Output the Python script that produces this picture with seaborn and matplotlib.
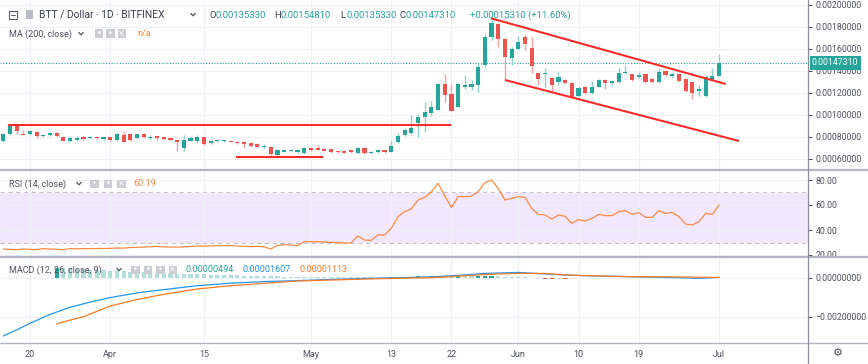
import matplotlib
matplotlib.use("Agg")
import matplotlib.pyplot as plt
import matplotlib.dates as mdates
from matplotlib.patches import Rectangle
from matplotlib.lines import Line2D
import numpy as np
import pandas as pd
import seaborn as sns

sns.set_theme(style="white")
plt.rcParams["font.family"] = ["Roboto", "DejaVu Sans"]

W, H = 868, 364

# --- data -----------------------------------------------------------------
dates = pd.date_range("2019-03-16", "2019-07-01", freq="D")

open_ = [
    0.0007636, 0.0008218, 0.0008973, 0.0008291, 0.0008218, 0.0008455, 0.0008036, 0.0008127, 0.0008364, 0.0008000,
    0.0007636, 0.0007700, 0.0007945, 0.0007909, 0.0007945, 0.0007818, 0.0007973, 0.0007673, 0.0008155, 0.0008218,
    0.0007855, 0.0008218, 0.0007855, 0.0008036, 0.0007945, 0.0007909, 0.0007673, 0.0006945, 0.0007636, 0.0007582,
    0.0007945, 0.0007400, 0.0007582, 0.0007582, 0.0007636, 0.0007518, 0.0007491, 0.0007400, 0.0007364, 0.0007064,
    0.0007091, 0.0006309, 0.0006636, 0.0006700, 0.0006609, 0.0006545, 0.0006973, 0.0006973, 0.0006909, 0.0006855,
    0.0006673, 0.0006700, 0.0006764, 0.0006491, 0.0007000, 0.0006518, 0.0006609, 0.0006791, 0.0006636, 0.0007491,
    0.0008155, 0.0008336, 0.0009236, 0.0009764, 0.0010127, 0.0010455, 0.0012764, 0.0011855, 0.0010727, 0.0012518,
    0.0012518, 0.0012673, 0.0014518, 0.0017064, 0.0018245, 0.0016882, 0.0015182, 0.0015945, 0.0017091, 0.0016091,
    0.0013764, 0.0013673, 0.0013309, 0.0012945, 0.0013155, 0.0012855, 0.0011700, 0.0012491, 0.0012000, 0.0012545,
    0.0013155, 0.0012909, 0.0013000, 0.0013764, 0.0013673, 0.0013455, 0.0013673, 0.0013245, 0.0013000, 0.0013973,
    0.0013518, 0.0013673, 0.0013218, 0.0013000, 0.0012155, 0.0011700, 0.0013155, 0.0013533,
]
high = [
    0.0008336, 0.0009127, 0.0009064, 0.0008609, 0.0008609, 0.0008518, 0.0008273, 0.0008382, 0.0008427, 0.0008064,
    0.0008036, 0.0008036, 0.0008064, 0.0008064, 0.0008018, 0.0008018, 0.0008018, 0.0008455, 0.0008518, 0.0008291,
    0.0008291, 0.0008364, 0.0008155, 0.0008109, 0.0008018, 0.0007973, 0.0007745, 0.0008155, 0.0008036, 0.0008182,
    0.0008018, 0.0007673, 0.0007791, 0.0007727, 0.0007700, 0.0007582, 0.0007564, 0.0007473, 0.0007427, 0.0007364,
    0.0007155, 0.0006855, 0.0006882, 0.0006855, 0.0006882, 0.0007091, 0.0007036, 0.0007218, 0.0006973, 0.0006909,
    0.0006727, 0.0006764, 0.0006818, 0.0007064, 0.0007064, 0.0006673, 0.0006855, 0.0006855, 0.0007609, 0.0008309,
    0.0008764, 0.0009973, 0.0010036, 0.0011200, 0.0011245, 0.0012882, 0.0013673, 0.0012764, 0.0012855, 0.0013609,
    0.0013182, 0.0014727, 0.0017336, 0.0018764, 0.0018291, 0.0016973, 0.0016155, 0.0017155, 0.0017245, 0.0017036,
    0.0013836, 0.0014245, 0.0013382, 0.0013855, 0.0013218, 0.0012927, 0.0012609, 0.0012564, 0.0013091, 0.0013245,
    0.0013218, 0.0013182, 0.0014364, 0.0014518, 0.0013745, 0.0013855, 0.0013745, 0.0013309, 0.0014218, 0.0014064,
    0.0013909, 0.0013745, 0.0013291, 0.0013064, 0.0012700, 0.0013564, 0.0014218, 0.0015481,
]
low = [
    0.0007518, 0.0008155, 0.0008245, 0.0008155, 0.0008155, 0.0007855, 0.0007945, 0.0008064, 0.0008018, 0.0007564,
    0.0007518, 0.0007609, 0.0007745, 0.0007836, 0.0007727, 0.0007745, 0.0007609, 0.0007609, 0.0007473, 0.0007609,
    0.0007791, 0.0007882, 0.0007764, 0.0007727, 0.0007673, 0.0007655, 0.0006700, 0.0006727, 0.0007564, 0.0007518,
    0.0007273, 0.0007336, 0.0007518, 0.0007518, 0.0007491, 0.0007336, 0.0007000, 0.0007109, 0.0007036, 0.0006855,
    0.0006336, 0.0006182, 0.0006582, 0.0006609, 0.0006545, 0.0006427, 0.0006727, 0.0006764, 0.0006673, 0.0006491,
    0.0006518, 0.0006491, 0.0006518, 0.0006427, 0.0006427, 0.0006427, 0.0006545, 0.0006545, 0.0006582, 0.0007427,
    0.0008091, 0.0008155, 0.0007945, 0.0008455, 0.0009882, 0.0010382, 0.0011127, 0.0010291, 0.0010655, 0.0012336,
    0.0012245, 0.0012036, 0.0014309, 0.0016791, 0.0016182, 0.0013155, 0.0014518, 0.0015882, 0.0015882, 0.0013791,
    0.0012700, 0.0012427, 0.0012091, 0.0012700, 0.0012791, 0.0011564, 0.0011609, 0.0011882, 0.0011927, 0.0012473,
    0.0012336, 0.0012700, 0.0012927, 0.0013655, 0.0013064, 0.0013336, 0.0012882, 0.0012927, 0.0012927, 0.0013518,
    0.0013309, 0.0013018, 0.0012064, 0.0011400, 0.0011700, 0.0011636, 0.0013064, 0.0013533,
]
close = [
    0.0008218, 0.0008973, 0.0008518, 0.0008200, 0.0008518, 0.0008091, 0.0008182, 0.0008336, 0.0008091, 0.0007636,
    0.0007909, 0.0007909, 0.0007818, 0.0008000, 0.0007855, 0.0007945, 0.0007673, 0.0008273, 0.0007545, 0.0007673,
    0.0008218, 0.0007945, 0.0008000, 0.0007909, 0.0007818, 0.0007727, 0.0007545, 0.0007673, 0.0007882, 0.0008000,
    0.0007336, 0.0007609, 0.0007727, 0.0007673, 0.0007545, 0.0007400, 0.0007309, 0.0007182, 0.0007091, 0.0007109,
    0.0006400, 0.0006791, 0.0006818, 0.0006764, 0.0006818, 0.0006973, 0.0006791, 0.0006818, 0.0006727, 0.0006609,
    0.0006582, 0.0006545, 0.0006582, 0.0007000, 0.0006491, 0.0006582, 0.0006791, 0.0006609, 0.0007182, 0.0008091,
    0.0008582, 0.0008818, 0.0009818, 0.0010245, 0.0010727, 0.0012764, 0.0011791, 0.0010364, 0.0012764, 0.0012700,
    0.0012764, 0.0014336, 0.0017064, 0.0018309, 0.0016882, 0.0015273, 0.0015973, 0.0016582, 0.0016400, 0.0014427,
    0.0013245, 0.0013764, 0.0012700, 0.0013400, 0.0012855, 0.0011636, 0.0012400, 0.0012000, 0.0012545, 0.0013155,
    0.0012909, 0.0013064, 0.0013818, 0.0013909, 0.0013155, 0.0013609, 0.0012945, 0.0013000, 0.0013909, 0.0013609,
    0.0013673, 0.0013091, 0.0012155, 0.0012000, 0.0012336, 0.0013455, 0.0013533, 0.0014731,
]

rsi = [
    24.8, 24.5, 24.3, 24.8, 24.5, 24.4, 25.1, 24.8, 24.5, 24.3,
    25.1, 25.0, 25.1, 25.1, 25.2, 25.2, 25.3, 25.6, 25.5, 26.0,
    26.1, 26.3, 26.6, 26.9, 26.4, 26.4, 26.3, 26.5, 26.8, 27.2,
    27.1, 27.3, 27.4, 27.5, 27.5, 27.2, 27.0, 26.7, 26.9, 26.5,
    24.8, 27.7, 28.3, 28.0, 27.5, 30.7, 30.6, 30.6, 30.4, 30.1,
    29.9, 29.6, 29.6, 35.2, 32.0, 31.7, 36.0, 36.0, 41.3, 50.7,
    54.7, 56.8, 64.0, 66.1, 70.5, 77.3, 67.5, 57.9, 66.7, 66.7,
    67.0, 70.7, 77.9, 80.0, 73.3, 64.0, 65.3, 66.7, 66.1, 57.3,
    52.5, 52.0, 48.8, 52.0, 50.9, 45.3, 48.3, 47.2, 49.3, 52.5,
    51.5, 51.5, 54.7, 55.5, 52.5, 53.9, 50.1, 50.1, 55.5, 53.3,
    54.1, 50.7, 44.8, 44.0, 46.7, 53.3, 52.5, 60.19,
]

# MACD line / signal line read at a subset of days (day number from the first candle)
macd_days = [0, 2, 4, 7, 10, 13, 16, 20, 24, 29, 34, 39, 44, 49, 54, 59, 64, 68, 72, 77, 82, 87, 94, 101, 104, 107]
macd_line = [-0.00299, -0.00268, -0.00234, -0.00188, -0.00152, -0.00125, -0.00102, -0.00078, -0.00061,
             -0.00041, -0.00028, -0.00020, -0.00015, -0.00009, -0.00004, 0.0, 0.00004, 0.00012, 0.00022,
             0.00027, 0.00017, 0.00010, 0.00005, 0.0, -0.00003, 0.000016]
signal_days = [8, 10, 12, 16, 20, 24, 29, 34, 39, 44, 49, 54, 59, 64, 69, 73, 77, 81, 84, 89, 94, 101, 107]
signal_line = [-0.00237, -0.00217, -0.00200, -0.00145, -0.00112, -0.00085, -0.00058, -0.00041, -0.00029,
               -0.00017, -0.00012, -0.00007, -0.00003, 0.0, 0.00010, 0.00018, 0.00022, 0.00022, 0.00014,
               0.00009, 0.00005, 0.000036, 0.000011]
hist_first_day = 8
macd_hist = [
    0.00052, 0.00050, 0.00048, 0.00046, 0.00044, 0.00042, 0.00040, 0.00038,
    0.00036, 0.00034, 0.00032, 0.00030, 0.00028, 0.00027, 0.00026, 0.00025,
    0.00024, 0.00022, 0.00021, 0.00020, 0.00019, 0.00018, 0.00017, 0.00016,
    0.00015, 0.00014, 0.00013, 0.00012, 0.00011, 0.00010, 0.00009, 0.00008,
    0.00007, 0.00007, 0.00006, 0.00006, 0.00005, 0.00005, 0.00005, 0.00004,
    0.00004, 0.00004, 0.00003, 0.00003, 0.00003, 0.00003, 0.00003, 0.00003,
    0.00003, 0.00003, 0.00004, 0.00005, 0.00005, 0.00006, 0.00007, 0.00007,
    0.00008, 0.00009, 0.00008, 0.00006, 0.00007, 0.00007, 0.00007, 0.00008,
    0.00010, 0.00011, 0.00009, 0.00006, 0.00005, 0.00004, 0.00002, -0.00001,
    -0.00003, -0.00005, -0.00006, -0.00005, -0.00006, -0.00005, -0.00004, -0.00003,
    -0.00002, -0.00001, -0.00001, 0.00000, 0.00000, 0.00001, 0.00000, 0.00000,
    -0.00001, -0.00001, 0.00000, 0.00000, -0.00001, -0.00001, -0.00002, -0.00002,
    -0.00002, -0.00001, 0.00000, 0.000005,
]

# trend lines drawn on the chart: (start, start price, end, end price)
drawn_lines = [
    ("2019-03-16 18:00", 0.000910, "2019-05-22 00:00", 0.000910),
    ("2019-04-19 19:00", 0.000612, "2019-05-02 19:00", 0.000612),
    ("2019-05-27 22:00", 0.0018764, "2019-07-02 00:00", 0.0012790),
    ("2019-05-30 00:00", 0.0013155, "2019-07-04 00:00", 0.0007609),
]
last_price = 0.0014731

tick_dates = ["2019-03-20", "2019-04-01", "2019-04-15", "2019-05-01", "2019-05-13",
              "2019-05-22", "2019-06-01", "2019-06-10", "2019-06-19", "2019-07-01"]
tick_labels = ["20", "Apr", "15", "May", "13", "22", "Jun", "10", "19", "Jul"]
price_ticks = [0.0006, 0.0008, 0.0010, 0.0012, 0.0014, 0.0016, 0.0018, 0.0020]
rsi_ticks = [20, 40, 60, 80]
macd_ticks = [-0.002, 0.0]

# --- styling ----------------------------------------------------------------
UP, DOWN = "#26a69a", "#ef5350"
UP_WICK, DOWN_WICK = "#8fd3cb", "#f6a3a2"
TXT = "#50535e"
GRID = "#eef1f6"
SEP = "#b2b5be"

df = pd.DataFrame({"date": dates, "open": open_, "high": high, "low": low, "close": close, "rsi": rsi})
df["x"] = mdates.date2num(df["date"])
df["up"] = df["close"] >= df["open"]
x0 = df["x"].iloc[0]
xlim = (x0 - 0.48, x0 + 120.3)
tick_x = mdates.date2num(pd.to_datetime(tick_dates))

fig = plt.figure(figsize=(W / 100, H / 100), dpi=100)
fig.patch.set_facecolor("white")


def fx(px):
    return px / W


def fy(py):
    return 1 - py / H


ax_main = fig.add_axes([0, fy(170), fx(808), 170 / H])
ax_rsi = fig.add_axes([0, fy(257), fx(808), 87 / H])
ax_macd = fig.add_axes([0, fy(343), fx(808), 86 / H])


def style_pane(ax, yticks, labels, ylim):
    ax.set_facecolor("white")
    for s in ax.spines.values():
        s.set_visible(False)
    ax.set_xlim(xlim)
    ax.set_ylim(ylim)
    ax.set_yticks(yticks)
    ax.yaxis.tick_right()
    ax.set_yticklabels(labels)
    ax.tick_params(axis="y", length=3, width=0.8, color=TXT, pad=2.5,
                   labelsize=6.3, labelcolor=TXT, right=True, left=False)
    ax.set_xticks(tick_x)
    ax.tick_params(axis="x", length=0, labelbottom=False)
    ax.grid(True, color=GRID, lw=0.8)
    ax.set_axisbelow(True)
    ax.set_xlabel("")
    ax.set_ylabel("")


# --- price pane -------------------------------------------------------------
style_pane(ax_main, price_ticks, [f"{v:.8f}" for v in price_ticks], (0.0004973, 0.0020427))
body_col = np.where(df["up"], UP, DOWN)
wick_col = np.where(df["up"], UP_WICK, DOWN_WICK)
ax_main.vlines(df["x"], df["low"], df["high"], colors=wick_col, lw=1.0, zorder=2)
body_h = np.maximum((df["close"] - df["open"]).abs(), 0.0000075)
ax_main.bar(df["x"], body_h, bottom=np.minimum(df["open"], df["close"]), width=0.62,
            color=body_col, linewidth=0, zorder=3)
for d0, p0, d1, p1 in drawn_lines:
    ax_main.plot(mdates.date2num(pd.to_datetime([d0, d1])), [p0, p1], color="#ff2b2b", lw=1.5,
                 solid_capstyle="butt", zorder=4)
ax_main.axhline(last_price, color=UP, lw=0.8, ls=(0, (1, 1.5)), zorder=1)

# --- RSI pane ---------------------------------------------------------------
style_pane(ax_rsi, rsi_ticks, [f"{v:.2f}" for v in rsi_ticks], (18.4, 88))
ax_rsi.axhspan(30, 70, color="#f3e7fd", zorder=0.5, lw=0)
for lvl in (30, 70):
    ax_rsi.axhline(lvl, color="#c9c3cf", lw=0.8, ls=(0, (4, 3)), zorder=1)
sns.lineplot(data=df, x="x", y="rsi", ax=ax_rsi, color="#ff8a45", lw=0.9, zorder=3)
ax_rsi.set_xlabel("")
ax_rsi.set_ylabel("")

# --- MACD pane --------------------------------------------------------------
style_pane(ax_macd, macd_ticks, [f"{v:.8f}".replace("-", "\u2212") for v in macd_ticks],
           (-0.003349, 0.0010615))
hist_x = df["x"].iloc[hist_first_day:hist_first_day + len(macd_hist)].to_numpy()
hist_cols = []
prev = 0.0
for v in macd_hist:
    if v >= 0:
        hist_cols.append("#26a69a" if v > prev else "#b2dfdb")
    else:
        hist_cols.append("#ef5350" if v < prev else "#ffcdd2")
    prev = v
ax_macd.bar(hist_x, macd_hist, width=0.62, color=hist_cols, linewidth=0, zorder=2)
macd_df = pd.DataFrame({"x": df["x"].iloc[macd_days].to_numpy(), "v": macd_line})
sig_df = pd.DataFrame({"x": df["x"].iloc[signal_days].to_numpy(), "v": signal_line})
sns.lineplot(data=macd_df, x="x", y="v", ax=ax_macd, color="#2196f3", lw=0.9, zorder=3)
sns.lineplot(data=sig_df, x="x", y="v", ax=ax_macd, color="#ff7a22", lw=0.9, zorder=3)
ax_macd.set_xlabel("")
ax_macd.set_ylabel("")
ax_macd.tick_params(axis="x", labelbottom=True, labelsize=6.5, labelcolor=TXT, pad=5)
ax_macd.set_xticklabels(tick_labels)

# --- frame lines ------------------------------------------------------------
for yy, lw in ((170, 1.6), (257, 1.6), (343, 1.0)):
    fig.add_artist(Line2D([0, 1], [fy(yy), fy(yy)], color=SEP, lw=lw))
fig.add_artist(Line2D([fx(808), fx(808)], [0, 1], color="#8c8f99", lw=0.9))

# price label on the scale
fig.text(fx(812), fy(62.7), f"{last_price:.8f}", color="white", fontsize=6.3, va="center", ha="left",
         bbox=dict(boxstyle="square,pad=0.28", fc=UP, ec="none"))


# --- legends ----------------------------------------------------------------
def chevron(x, y):
    fig.add_artist(Line2D([fx(x - 2.3), fx(x), fx(x + 2.3)], [fy(y - 1.1), fy(y + 1.3), fy(y - 1.1)],
                          color=TXT, lw=0.9))


def icons(xs, y, w=8.5, h=8.5):
    for i, x in enumerate(xs):
        fig.add_artist(Rectangle((fx(x), fy(y + h / 2)), w / W, h / H, transform=fig.transFigure,
                                 fc="#cbcdd3", ec="none"))
        mark = "×" if i == len(xs) - 1 else "•"
        fig.text(fx(x + w / 2), fy(y), mark, color="white", fontsize=6, ha="center", va="center",
                 family=["DejaVu Sans"])


# title row
fig.add_artist(Rectangle((fx(9), fy(19)), 8 / W, 8 / H, transform=fig.transFigure, fc="none", ec=TXT, lw=0.7))
fig.add_artist(Line2D([fx(10.8), fx(15.2)], [fy(15), fy(15)], color=TXT, lw=0.7))
fig.add_artist(Rectangle((fx(26), fy(19)), 7 / W, 9 / H, transform=fig.transFigure, fc="#b9bcc3", ec="none"))
fig.text(fx(39), fy(15), "BTT / Dollar · 1D · BITFINEX", color="#3b3f4a", fontsize=7.4, va="center")
chevron(193, 14.5)
for x, key, val in ((209, "O", "0.00135330"), (274, "H", "0.00154810"),
                    (340, "L", "0.00135330"), (399, "C", "0.00147310")):
    t = fig.text(fx(x), fy(15), key, color="#3b3f4a", fontsize=6.8, va="center")
    fig.text(fx(x + 6.5), fy(15), val, color=UP, fontsize=6.8, va="center")
fig.text(fx(470), fy(15), "+0.00015310 (+11.60%)", color=UP, fontsize=6.8, va="center")

fig.text(fx(9), fy(34), "MA (200, close)", color=TXT, fontsize=6.5, va="center")
chevron(81, 33.5)
icons([94.5, 106, 117.5], 33.5)
fig.text(fx(137), fy(34), "n/a", color="#ff8a3a", fontsize=6.5, va="center")

fig.text(fx(9), fy(184), "RSI (14, close)", color=TXT, fontsize=6.5, va="center")
chevron(79, 183.5)
icons([90, 103.5, 117], 184)
fig.text(fx(133), fy(184), "60.19", color="#ff8a45", fontsize=6.5, va="center")

fig.text(fx(9), fy(270), "MACD (12, 26, close, 9)", color=TXT, fontsize=6.5, va="center")
chevron(119, 269.5)
icons([131, 143.5, 156, 168.5], 270)
fig.text(fx(186), fy(270), "0.00000494", color="#26a69a", fontsize=6.5, va="center")
fig.text(fx(243), fy(270), "0.00001607", color="#2196f3", fontsize=6.5, va="center")
fig.text(fx(300), fy(270), "0.00001113", color="#ff7a22", fontsize=6.5, va="center")

fig.text(fx(838), fy(353), "\u2699", color=TXT, fontsize=8, ha="center", va="center", family=["DejaVu Sans"])

fig.savefig("out.png", dpi=100, facecolor="white")
